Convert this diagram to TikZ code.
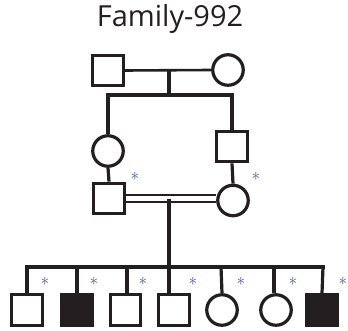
\documentclass[tikz,border=0pt]{standalone}
\usepackage{fontspec}
\setmainfont{Open Sans}
\usepackage{xcolor}
\definecolor{ink}{HTML}{231F20}
\definecolor{starblue}{HTML}{4A5A8C}

\begin{document}
\begin{tikzpicture}[
        x=1pt, y=-1pt,
        male/.style = {draw=ink, rectangle, line width=3.2pt, minimum size=30.5pt, inner sep=0pt},
        female/.style = {draw=ink, circle, line width=3.2pt, minimum size=30.5pt, inner sep=0pt},
        affected/.style = {fill=ink},
        line/.style = {draw=ink, line width=3.2pt},
        tested/.style = {text=starblue, font=\fontsize{17}{17}\selectfont, inner sep=0pt}]
        \useasboundingbox (0,0) rectangle (348,331);
        % TITLE
        \node[text=ink, font=\fontsize{29}{30}\selectfont] (title) at (170,19) {Family-992};
        % NODES
        % grandparents
        \node[male] (GF) at (108,70.5) {};
        \node[female] (GM) at (228,70) {};
        % parents' generation
        \node[female] (A) at (108,151) {};
        \node[male] (B) at (232,146.5) {};
        % consanguineous couple
        \node[male] (F) at (109,198.5) {};
        \node[female] (M) at (233,200.5) {};
        % children
        \node[male] (C1) at (27,310) {};
        \node[male, affected] (C2) at (77,310) {};
        \node[male] (C3) at (125.5,310) {};
        \node[male] (C4) at (174,310) {};
        \node[female] (C5) at (222,310) {};
        \node[female] (C6) at (276,310) {};
        \node[male, affected] (C7) at (322,310) {};
        % stars
        \node[tested] (sF) at (135,176) {$\ast$};
        \node[tested] (sM) at (256,176) {$\ast$};
        \node[tested] (s1) at (45,281) {$\ast$};
        \node[tested] (s2) at (94,281) {$\ast$};
        \node[tested] (s3) at (143,281) {$\ast$};
        \node[tested] (s4) at (193,281) {$\ast$};
        \node[tested] (s5) at (241,281) {$\ast$};
        \node[tested] (s6) at (293,281) {$\ast$};
        \node[tested] (s7) at (343,281) {$\ast$};
        % helper points
        \coordinate (m1) at (169,70);
        \coordinate (g1) at (169,95);
        \coordinate (gA) at (108,95);
        \coordinate (gB) at (232,95);
        \coordinate (m2) at (169,199.5);
        \coordinate (g2) at (169,267);
        \coordinate (d1) at (27,267);
        \coordinate (d2) at (77,267);
        \coordinate (d3) at (127,267);
        \coordinate (d5) at (221,267);
        \coordinate (d6) at (274,267);
        \coordinate (d7) at (323,267);

        % LINES
        \draw[line, line width=2.6pt] (GF.east) -- (GM.west);
        \draw[line] (m1) -- (g1);
        \draw[line] ([xshift=-1.6pt]gA) -- ([xshift=1.6pt]gB);
        \draw[line] (gA) -- (A.north);
        \draw[line] (gB) -- (B.north);
        \draw[line] (A.south) -- (F.north);
        \draw[line] (B.south) -- (M.north);
        \draw[line, line width=2.6pt] ([yshift=-3.6pt]F.east) -- ([yshift=-3.6pt]F.east -| M.west);
        \draw[line, line width=2.6pt] ([yshift=3.6pt]F.east) -- ([yshift=3.6pt]F.east -| M.west);
        \draw[line] (m2) -- (g2);
        \draw[line] ([xshift=-1.6pt]d1) -- ([xshift=1.6pt]d7);
        \draw[line] (d1) -- (C1.north);
        \draw[line] (d2) -- (C2.north);
        \draw[line] (d3) -- (d3 |- C3.north);
        \draw[line] (g2) -- (g2 |- C4.north);
        \draw[line] (d5) -- (C5.north);
        \draw[line] (d6) -- (d6 |- C6.north);
        \draw[line] (d7) -- (C7.north);
    \end{tikzpicture}
\end{document}
